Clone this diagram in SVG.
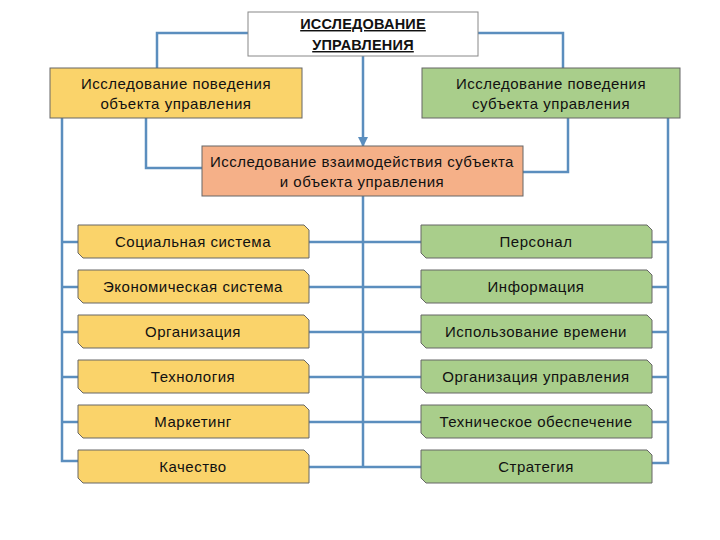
<svg xmlns="http://www.w3.org/2000/svg" width="720" height="540" viewBox="0 0 720 540">
<defs>
<style>
text{font-family:"Liberation Sans",Arial,sans-serif;font-size:15px;letter-spacing:0.5px;fill:#111;text-anchor:middle}
.c{fill:none;stroke:#5B8EBE;stroke-width:2.5}
.y{fill:#FAD36A;stroke:#666;stroke-width:1}
.g{fill:#A9CE8B;stroke:#666;stroke-width:1}
.o{fill:#F5B088;stroke:#666;stroke-width:1}
.t{font-size:14.5px;font-weight:bold;letter-spacing:0.2px;text-decoration:underline}
</style>
<marker id="ah" viewBox="0 0 10 10" refX="9" refY="5" markerWidth="4" markerHeight="4" orient="auto"><path d="M0,0 L10,5 L0,10 z" fill="#5B8EBE"/></marker>
</defs>
<g id="connectors">
<path class="c" d="M248,33 H157 V68"/>
<path class="c" d="M478,33 H563 V68"/>
<path class="c" d="M363,56 V146" marker-end="url(#ah)"/>
<path class="c" d="M146,118 V168 H202"/>
<path class="c" d="M568,118 V172 H523"/>
<path class="c" d="M62,118 V461 H78"/>
<path class="c" d="M62,242 H78 M62,287 H78 M62,332 H78 M62,377 H78 M62,422 H78"/>
<path class="c" d="M668,118 V463 H652"/>
<path class="c" d="M668,242 H652 M668,287 H652 M668,332 H652 M668,377 H652 M668,422 H652"/>
<path class="c" d="M363,196 V467"/>
<path class="c" d="M309,242 H421 M309,287 H421 M309,332 H421 M309,377 H421 M309,422 H421 M309,467 H421"/>
</g>
<g id="top"><rect x="248" y="12" width="230" height="44" fill="#fff" stroke="#888"/>
<text class="t" x="363" y="29">ИССЛЕДОВАНИЕ</text><text class="t" x="363" y="50">УПРАВЛЕНИЯ</text></g>
<g id="obj"><rect class="y" x="50" y="68" width="252" height="50"/>
<text x="176" y="89">Исследование поведения</text><text x="176" y="109">объекта управления</text></g>
<g id="subj"><rect class="g" x="422" y="68" width="258" height="50"/>
<text x="551" y="89">Исследование поведения</text><text x="551" y="109">субъекта управления</text></g>
<g id="inter"><rect class="o" x="202" y="146" width="321" height="50"/>
<text x="362" y="167">Исследование взаимодействия субъекта</text><text x="362" y="187">и объекта управления</text></g>
<g id="l1"><path class="y" d="M78,225 H304 L309,230 V258 H83 L78,253 Z"/><text x="193" y="247">Социальная система</text></g>
<g id="l2"><path class="y" d="M78,270 H304 L309,275 V303 H83 L78,298 Z"/><text x="193" y="292">Экономическая система</text></g>
<g id="l3"><path class="y" d="M78,315 H304 L309,320 V348 H83 L78,343 Z"/><text x="193" y="337">Организация</text></g>
<g id="l4"><path class="y" d="M78,360 H304 L309,365 V393 H83 L78,388 Z"/><text x="193" y="382">Технология</text></g>
<g id="l5"><path class="y" d="M78,405 H304 L309,410 V438 H83 L78,433 Z"/><text x="193" y="427">Маркетинг</text></g>
<g id="l6"><path class="y" d="M78,450 H304 L309,455 V483 H83 L78,478 Z"/><text x="193" y="472">Качество</text></g>
<g id="r1"><path class="g" d="M421,225 H647 L652,230 V258 H426 L421,253 Z"/><text x="536" y="247">Персонал</text></g>
<g id="r2"><path class="g" d="M421,270 H647 L652,275 V303 H426 L421,298 Z"/><text x="536" y="292">Информация</text></g>
<g id="r3"><path class="g" d="M421,315 H647 L652,320 V348 H426 L421,343 Z"/><text x="536" y="337">Использование времени</text></g>
<g id="r4"><path class="g" d="M421,360 H647 L652,365 V393 H426 L421,388 Z"/><text x="536" y="382">Организация управления</text></g>
<g id="r5"><path class="g" d="M421,405 H647 L652,410 V438 H426 L421,433 Z"/><text x="536" y="427">Техническое обеспечение</text></g>
<g id="r6"><path class="g" d="M421,450 H647 L652,455 V483 H426 L421,478 Z"/><text x="536" y="472">Стратегия</text></g>
</svg>
